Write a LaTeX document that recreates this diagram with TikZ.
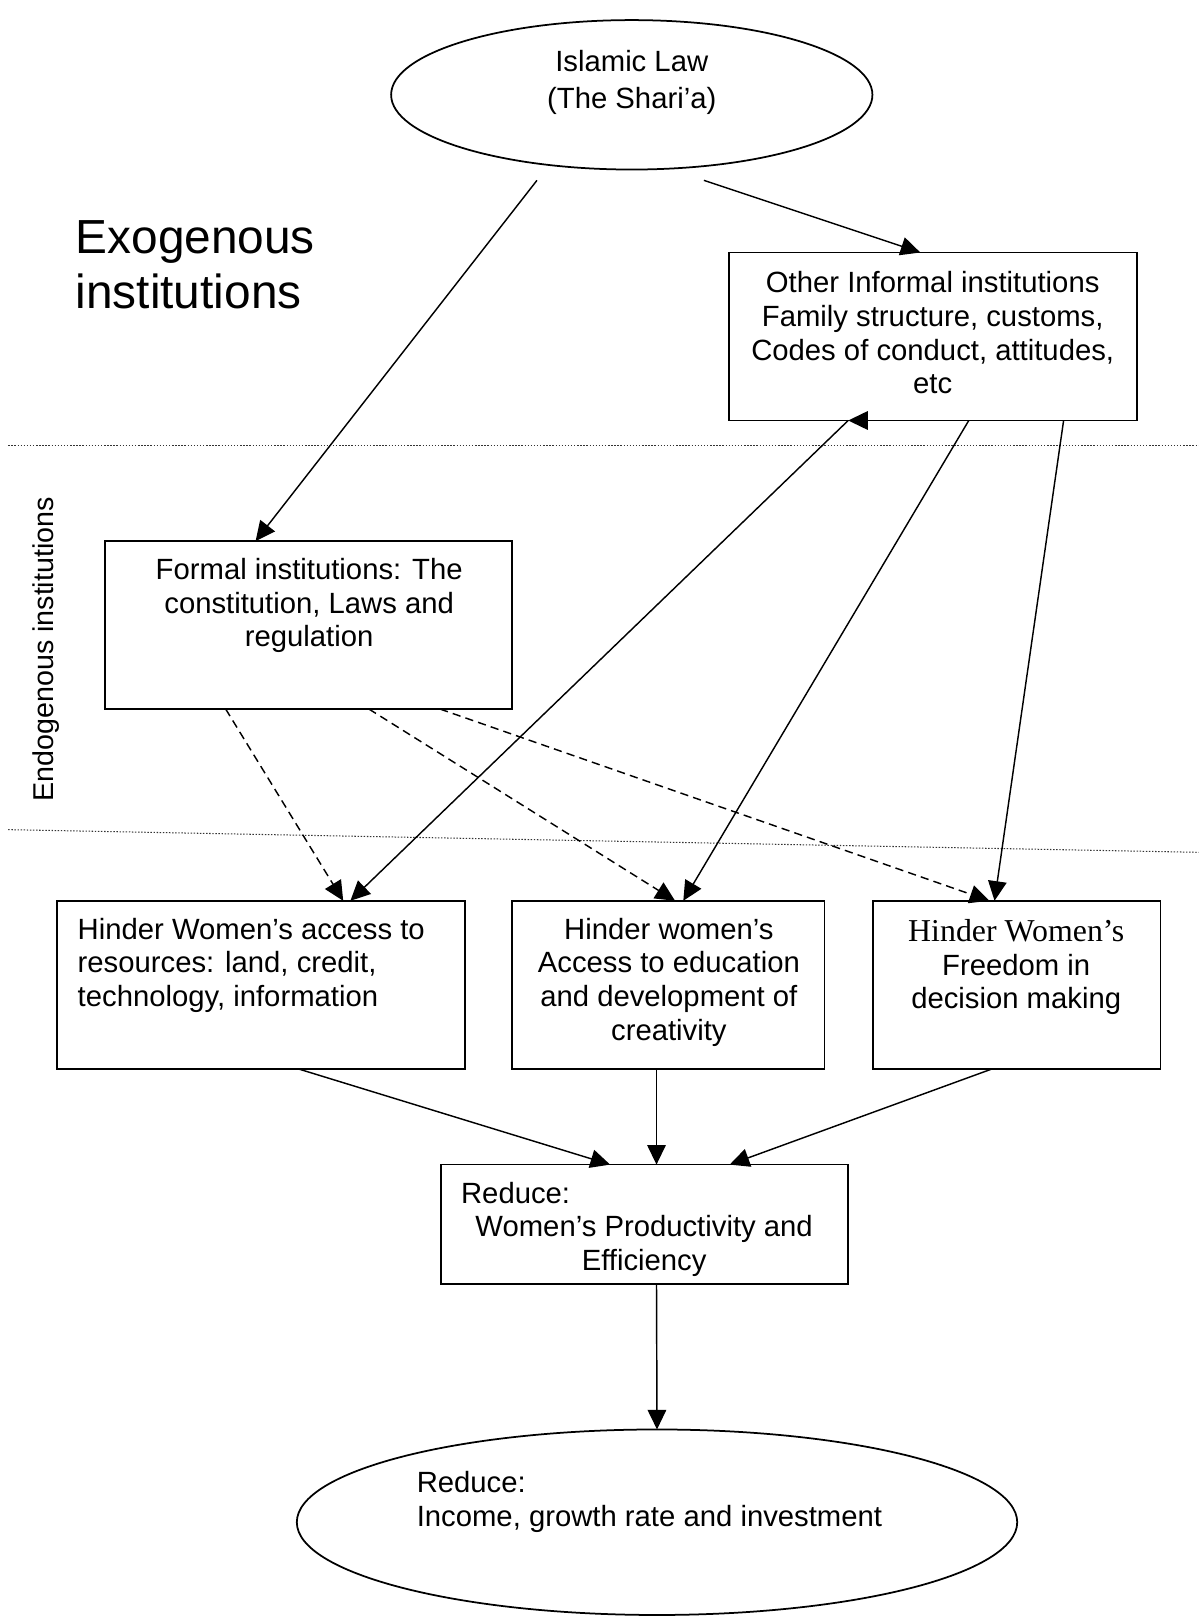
\documentclass[tikz,border=0pt]{standalone}
\usepackage{fontspec}
\setmainfont{Liberation Sans}
\newfontfamily\tnrfont{Liberation Serif}
\usetikzlibrary{arrows.meta,calc,shapes.geometric}
\begin{document}
\begin{tikzpicture}[x=0.5pt,y=-0.5pt,
  every node/.style={font=\fontsize{14.2}{16.3}\selectfont},
  box/.style={draw, line width=0.85pt, inner sep=0pt, outer sep=0pt},
  oval/.style={draw, ellipse, line width=0.85pt, inner sep=0pt, outer sep=0pt},
  txt/.style={align=center, inner sep=0pt},
  arr/.style={line width=0.7pt, -{Triangle[length=9.5pt,width=9pt]}},
  darr/.style={arr, dash pattern=on 4pt off 2.5pt},
  sepline/.style={line width=0.5pt, dash pattern=on 0.7pt off 0.8pt, black!80}]
\useasboundingbox (0,0) rectangle (1163,1568);
\fill[white] (0,0) rectangle (1163,1568);

% separators
\coordinate (sepA1) at (8,432);
\coordinate (sepA2) at (1163,432);
\coordinate (sepB1) at (8,805);
\coordinate (sepB2) at (1163,827);
\draw[sepline] (sepA1) -- (sepA2);
\draw[sepline] (sepB1) -- (sepB2);

% shapes
\node[oval, minimum width=233.5pt, minimum height=72.5pt] (law) at (613,92) {};
\node[box, minimum width=198pt, minimum height=81.5pt] (other) at (905,326.5) {};
\node[box, minimum width=197.5pt, minimum height=81.5pt] (formal) at (299.5,606.5) {};
\node[box, minimum width=198pt, minimum height=81.5pt] (hinA) at (253,955.5) {};
\node[box, minimum width=151.5pt, minimum height=81.5pt] (hinB) at (648.5,955.5) {};
\node[box, minimum width=139.5pt, minimum height=81.5pt] (hinC) at (986.5,955.5) {};
\node[box, minimum width=197.5pt, minimum height=58pt] (red) at (625.5,1188) {};
\node[oval, minimum width=349.5pt, minimum height=90pt] (out) at (637.5,1477) {};

% texts
\node[txt, font=\fontsize{14.2}{17.5}\selectfont] (lawt) at (613,80) {Islamic Law\\(The Shari’a)};
\node[txt, align=left, anchor=west, font=\fontsize{23.2}{26.5}\selectfont] (exo) at (73,257) {Exogenous\\institutions};
\node[txt, rotate=90, font=\fontsize{13.9}{16}\selectfont] (endo) at (45,630) {Endogenous institutions};
\node[txt] (othert) at (905,323) {Other Informal institutions\\Family structure, customs,\\Codes of conduct, attitudes,\\etc};
\node[txt] (formalt) at (300,587.5) {Formal institutions: The\\constitution, Laws and\\regulation};
\node[txt, align=left, anchor=west] (hinAt) at (75,936.5) {Hinder Women’s access to\\resources: land, credit,\\technology, information};
\node[txt] (hinBt) at (649,953) {Hinder women’s\\Access to education\\and development of\\creativity};
\node[txt] (hinCt) at (986,938.5) {{\tnrfont\fontsize{15.45}{17}\selectfont Hinder Women’s}\\Freedom in\\decision making};
\node[txt, anchor=west] (redt1) at (447,1158) {Reduce:};
\node[txt] (redt2) at (625,1209) {Women’s Productivity and\\Efficiency};
\node[txt, align=left, anchor=west] (outt) at (404,1457.5) {Reduce:\\Income, growth rate and investment};

% connector free starts below the top ellipse
\coordinate (lawL) at (521,175);
\coordinate (lawR) at (683,175);
\coordinate (otherA) at ($(other.south west)+(116,0)$);

% connectors
\draw[arr] (lawL) -- ($(formal.north west)+(146,0)$);
\draw[arr] (lawR) -- ($(other.north west)+(186,0)$);
\draw[arr] (otherA) -- ($(hinA.north west)+(285,0)$);
\draw[arr] ($(otherA)+(20,0)$) -- (otherA);
\draw[arr] ($(other.south west)+(233,0)$) -- ($(hinB.north west)+(166,0)$);
\draw[arr] ($(other.south west)+(325,0)$) -- ($(hinC.north west)+(118,0)$);
\draw[darr] ($(formal.south west)+(117,0)$) -- ($(hinA.north west)+(278,0)$);
\draw[darr] ($(formal.south west)+(256,0)$) -- ($(hinB.north west)+(158,0)$);
\draw[darr] ($(formal.south west)+(325,0)$) -- ($(hinC.north west)+(113,0)$);
\draw[arr] ($(hinA.south west)+(234,0)$) -- ($(red.north west)+(164,0)$);
\draw[arr] ($(hinB.south west)+(140,0)$) -- ($(red.north west)+(209,0)$);
\draw[arr] ($(hinC.south west)+(116,0)$) -- ($(red.north west)+(280,0)$);
\draw[arr] ($(red.south west)+(209,0)$) -- (out.north);
\end{tikzpicture}
\end{document}
